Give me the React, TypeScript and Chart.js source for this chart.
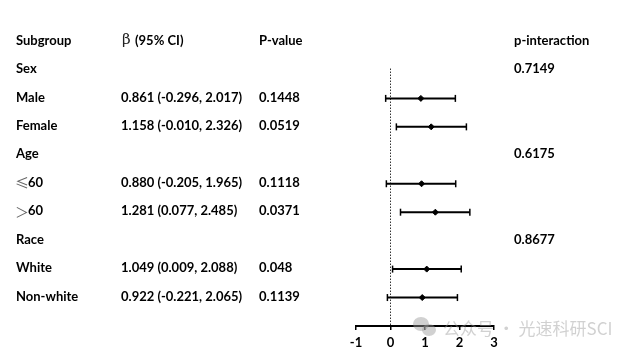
import React, { useEffect, useRef } from "react";
import { Chart, registerables } from "chart.js";

Chart.register(...registerables);

// ---- table text ----
const rowLabels = ["Subgroup", "Sex", "Male", "Female", "Age", "≤60", "＞60", "Race", "White", "Non-white"];
const betaLabels = [
  "β (95% CI)",
  "",
  "0.861 (-0.296, 2.017)",
  "1.158 (-0.010, 2.326)",
  "",
  "0.880 (-0.205, 1.965)",
  "1.281 (0.077, 2.485)",
  "",
  "1.049 (0.009, 2.088)",
  "0.922 (-0.221, 2.065)",
];
const pValues = ["P-value", "", "0.1448", "0.0519", "", "0.1118", "0.0371", "", "0.048", "0.1139"];
const pInteraction = ["p-interaction", "0.7149", "", "", "0.6175", "", "", "0.8677", "", ""];

// ---- plotted values (as drawn in the figure) ----
const plotRows = [2, 3, 5, 6, 8, 9];
const estimates = [0.88, 1.18, 0.9, 1.3, 1.05, 0.92];
const lowers = [-0.14, 0.17, -0.12, 0.29, 0.06, -0.09];
const uppers = [1.88, 2.2, 1.89, 2.3, 2.05, 1.94];
const xTicks = [-1, 0, 1, 2, 3];
const refLine = [0];

const watermark = "公众号 · 光速科研SCI";

const BOLD = "bold 13px Lato, 'Noto Sans CJK SC', sans-serif";

const textPlugin = {
  id: "forestText",
  afterDraw(chart: any) {
    const ctx = chart.ctx as CanvasRenderingContext2D;
    const y = chart.scales.y;
    ctx.save();
    ctx.fillStyle = "#000";
    ctx.textBaseline = "middle";
    ctx.textAlign = "left";
    rowLabels.forEach((lab, i) => {
      const py = y.getPixelForValue(i) - 1;
      const first = lab.charCodeAt(0);
      if (first > 127) {
        ctx.font = "14px 'Noto Sans CJK SC'";
        ctx.fillStyle = "#666";
        ctx.fillText(lab[0], 15, py);
        const w = ctx.measureText(lab[0]).width;
        ctx.font = BOLD;
        ctx.fillStyle = "#000";
        ctx.fillText(lab.slice(1), 15 + w - 1, py);
      } else {
        ctx.font = BOLD;
        ctx.fillStyle = "#000";
        ctx.fillText(lab, 16, py);
      }
      const b = betaLabels[i];
      if (b) {
        if (b.startsWith("β")) {
          ctx.font = "15px 'DejaVu Serif', serif";
          ctx.fillStyle = "#222";
          ctx.fillText("β", 122, py);
          ctx.fillStyle = "#000";
          ctx.font = BOLD;
          ctx.fillText(b.slice(1).trim(), 135, py);
        } else {
          ctx.font = BOLD;
          ctx.fillText(b, 121, py);
        }
      }
      ctx.font = BOLD;
      if (pValues[i]) ctx.fillText(pValues[i], 259, py);
      if (pInteraction[i]) ctx.fillText(pInteraction[i], 514, py);
    });

    // watermark
    ctx.globalAlpha = 0.45;
    ctx.fillStyle = "#9a9a9a";
    ctx.beginPath();
    ctx.ellipse(421, 324, 8, 7, 0, 0, Math.PI * 2);
    ctx.fill();
    ctx.beginPath();
    ctx.ellipse(429, 330, 7, 6, 0, 0, Math.PI * 2);
    ctx.fill();
    ctx.font = "17px 'Noto Sans CJK SC'";
    ctx.fillStyle = "#999";
    ctx.textBaseline = "middle";
    ctx.fillText(watermark, 443, 329);
    ctx.restore();
  },
};

export default function App() {
  const ref = useRef<HTMLCanvasElement | null>(null);
  useEffect(() => {
    document.body.style.margin = "0";
    const canvas = ref.current;
    if (!canvas) return;

    const datasets: any[] = [];
    plotRows.forEach((r, i) => {
      datasets.push({
        data: [
          { x: lowers[i], y: r },
          { x: uppers[i], y: r },
        ],
        showLine: true,
        borderColor: "#000",
        borderWidth: 2,
        pointStyle: "line",
        rotation: 90,
        pointRadius: 3.5,
        pointBorderWidth: 1.5,
        pointBorderColor: "#000",
        pointBackgroundColor: "#000",
        clip: false,
      });
    });
    datasets.push({
      data: plotRows.map((r, i) => ({ x: estimates[i], y: r })),
      showLine: false,
      pointStyle: "rectRot",
      pointRadius: 3,
      pointBackgroundColor: "#000",
      pointBorderColor: "#000",
      pointBorderWidth: 1,
      clip: false,
    });
    refLine.forEach((v) => {
      datasets.push({
        data: [
          { x: v, y: 0.95 },
          { x: v, y: 10 },
        ],
        showLine: true,
        borderColor: "#333",
        borderWidth: 1,
        borderDash: [1.5, 1.5],
        pointRadius: 0,
        clip: false,
      });
    });

    const chart = new Chart(canvas, {
      type: "scatter",
      data: { datasets },
      options: {
        animation: false,
        responsive: false,
        devicePixelRatio: 1,
        layout: { padding: { left: 356, right: 150, top: 41.5, bottom: 0 } },
        plugins: { legend: { display: false }, tooltip: { enabled: false } },
        scales: {
          x: {
            type: "linear",
            min: -1,
            max: 3,
            afterBuildTicks: (s: any) => {
              s.ticks = xTicks.map((v) => ({ value: v }));
            },
            afterFit: (s: any) => {
              s.height = 29;
            },
            grid: {
              display: true,
              drawOnChartArea: false,
              drawTicks: true,
              tickLength: 4,
              color: "#000",
              lineWidth: 1.5,
            },
            border: { display: true, color: "#000", width: 2 },
            ticks: {
              color: "#000",
              padding: 5,
              font: { family: "Lato", size: 13, weight: "bold" },
              callback: (v: any) => String(v),
            },
          },
          y: {
            type: "linear",
            reverse: true,
            min: 0,
            max: 10,
            display: false,
          },
        },
      },
      plugins: [textPlugin],
    });
    return () => chart.destroy();
  }, []);

  return (
    <div style={{ width: 644, height: 355, background: "#fff" }}>
      <canvas ref={ref} width={644} height={355} style={{ display: "block" }} />
    </div>
  );
}
